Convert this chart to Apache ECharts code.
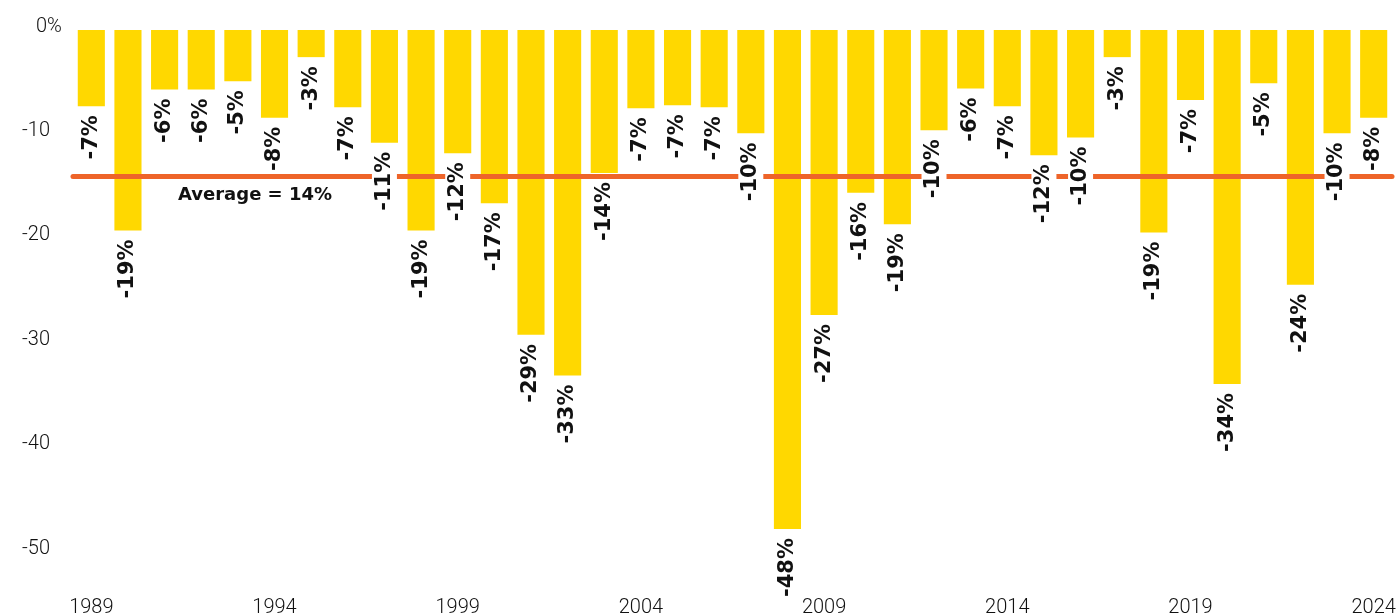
<!DOCTYPE html>
<html>
<head>
<meta charset="utf-8">
<script src="https://cdn.jsdelivr.net/npm/echarts@6/dist/echarts.min.js"></script>
<style>
  html, body { margin: 0; padding: 0; background: #ffffff; }
  #chart { width: 1400px; height: 616px; }
</style>
</head>
<body>
<div id="chart"></div>
<script>
// Calendar years on the category axis
const years = [
  '1989', '1990', '1991', '1992', '1993', '1994', '1995', '1996', '1997',
  '1998', '1999', '2000', '2001', '2002', '2003', '2004', '2005', '2006',
  '2007', '2008', '2009', '2010', '2011', '2012', '2013', '2014', '2015',
  '2016', '2017', '2018', '2019', '2020', '2021', '2022', '2023', '2024'
];

// Largest intra-year decline for each year, in percent
const drops = [
  -7.3, -19.2, -5.7, -5.7, -4.9, -8.4, -2.6, -7.4, -10.8,
  -19.2, -11.8, -16.6, -29.2, -33.1, -13.7, -7.5, -7.2, -7.4,
  -9.9, -47.8, -27.3, -15.6, -18.6, -9.6, -5.6, -7.3, -12.0,
  -10.3, -2.6, -19.4, -6.7, -33.9, -5.1, -24.4, -9.9, -8.4
];

// Average decline across all years
const averageDrop = -14;

// Tick labels
const xTickYears = ['1989', '1994', '1999', '2004', '2009', '2014', '2019', '2024'];
const yTicks = [0, -10, -20, -30, -40, -50];

const chart = echarts.init(document.getElementById('chart'), null, { renderer: 'canvas' });

const axisFont = {
  fontFamily: 'Roboto',
  fontWeight: 300,
  fontSize: 20,
  color: '#111111'
};

const yBase = {
  type: 'value',
  position: 'left',
  min: yTicks[yTicks.length - 1],
  max: yTicks[0],
  interval: yTicks[0] - yTicks[1],
  axisLine: { show: false },
  axisTick: { show: false },
  splitLine: { show: false }
};

// y tick labels sit slightly above their tick
const yLabelLift = { verticalAlign: 'bottom', lineHeight: 7 };

const option = {
  animation: false,
  backgroundColor: '#ffffff',
  grid: { left: 73, right: 8, top: 30, bottom: 64, outerBoundsMode: 'none' },
  xAxis: {
    type: 'category',
    position: 'bottom',
    data: years,
    axisLine: { show: false, onZero: false },
    axisTick: { show: false },
    axisLabel: Object.assign({}, axisFont, {
      margin: 46,
      interval: (idx, value) => xTickYears.includes(value)
    })
  },
  yAxis: [
    Object.assign({}, yBase, {
      axisLabel: Object.assign({}, axisFont, yLabelLift, {
        margin: 23,
        align: 'right',
        formatter: v => (v === 0 ? '' : String(v))
      })
    }),
    // zero tick carries the percent sign, hanging past the number column
    Object.assign({}, yBase, {
      axisLabel: Object.assign({}, axisFont, yLabelLift, {
        margin: 37,
        align: 'left',
        formatter: v => (v === 0 ? '0%' : '')
      })
    })
  ],
  series: [
    {
      name: 'Decline',
      type: 'bar',
      data: drops,
      barCategoryGap: '26%',
      itemStyle: { color: '#FFD800' },
      z: 2,
      silent: true,
      markLine: {
        silent: true,
        z: 5,
        symbol: ['none', 'none'],
        lineStyle: { color: '#EE6429', width: 5, type: 'solid', cap: 'round' },
        emphasis: { disabled: true },
        label: {
          show: true,
          position: 'insideStartBottom',
          distance: [105, 10],
          formatter: 'Average = ' + Math.abs(averageDrop) + '%',
          fontFamily: 'DejaVu Sans',
          fontWeight: 'bold',
          fontSize: 18,
          color: '#111111'
        },
        data: [{ yAxis: averageDrop }]
      }
    },
    {
      // value labels, drawn above the average line
      name: 'Decline label',
      type: 'bar',
      data: drops,
      barGap: '-100%',
      barCategoryGap: '26%',
      itemStyle: { color: 'rgba(0,0,0,0)' },
      z: 10,
      silent: true,
      label: {
        show: true,
        position: 'bottom',
        rotate: 90,
        align: 'right',
        verticalAlign: 'middle',
        distance: 7,
        formatter: p => Math.round(p.value) + '%',
        fontFamily: 'DejaVu Sans',
        fontWeight: 'bold',
        fontSize: 21,
        color: '#111111',
        backgroundColor: '#ffffff',
        padding: [2, 2]
      }
    }
  ]
};

chart.setOption(option);
</script>
</body>
</html>
